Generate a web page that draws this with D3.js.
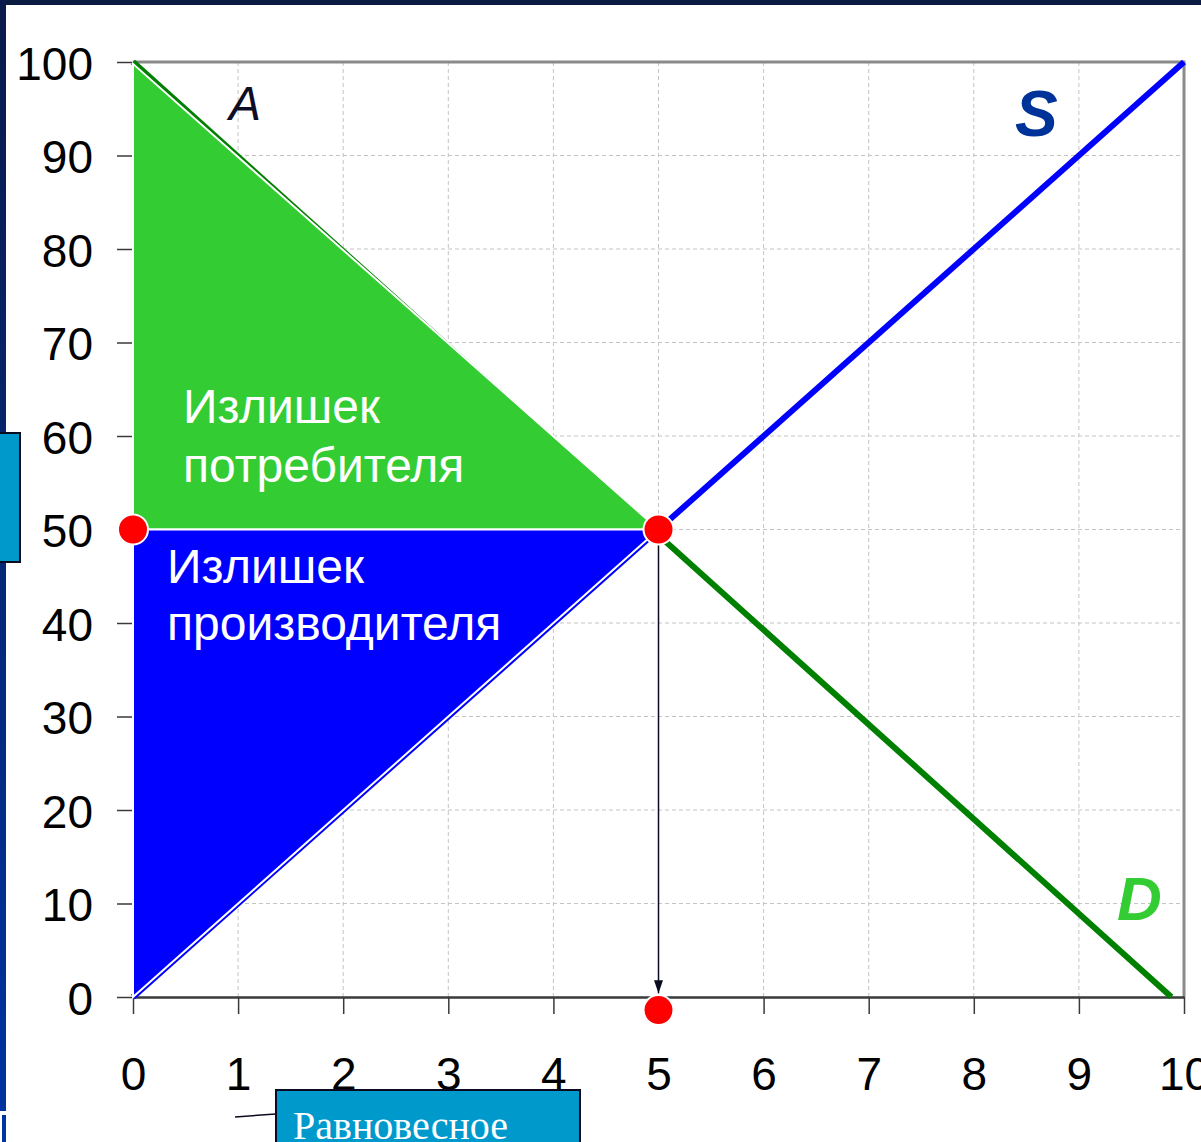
<!DOCTYPE html>
<html>
<head>
<meta charset="utf-8">
<script src="https://cdn.jsdelivr.net/npm/d3@7"></script>
<style>
  body { margin: 0; background: #fff; }
  svg { display: block; }
</style>
</head>
<body>
<div id="chart"></div>
<script>
//------------------------------DATA------------------------------//
const xTicks = [0, 1, 2, 3, 4, 5, 6, 7, 8, 9, 10];
const yTicks = [0, 10, 20, 30, 40, 50, 60, 70, 80, 90, 100];
const supply = [[0, 0], [10, 100]];
const demand = [[0, 100], [9.88, 0]];
const consumerSurplus = [[0, 99.8], [0, 50], [5, 50]];
const producerSurplus = [[0, 0], [0, 50], [5, 50]];
const equilibrium = [[0, 50], [5, 50], [5, -1.4]];
const dropLine = [[5, 50], [5, 0.4]];
const consumerLabel = ["Излишек", "потребителя"];
const producerLabel = ["Излишек", "производителя"];

//------------------------------SVG-------------------------------//
const W = 1201, H = 1142;
const svg = d3.select("#chart").append("svg")
  .attr("width", W)
  .attr("height", H)
  .style("font-family", "'Liberation Sans', Arial, sans-serif");

const defs = svg.append("defs");
const grad = defs.append("linearGradient")
  .attr("id", "edge")
  .attr("x1", 0).attr("y1", 0).attr("x2", 0).attr("y2", 1);
grad.append("stop").attr("offset", "0%").attr("stop-color", "#0a1a4a");
grad.append("stop").attr("offset", "100%").attr("stop-color", "#0033a0");

defs.append("marker")
  .attr("id", "arrow")
  .attr("viewBox", "0 0 10 10")
  .attr("refX", 10).attr("refY", 5)
  .attr("markerWidth", 13).attr("markerHeight", 9)
  .attr("markerUnits", "userSpaceOnUse")
  .attr("preserveAspectRatio", "none")
  .attr("orient", "auto")
  .append("path")
  .attr("d", "M0,0 L10,5 L0,10 Z")
  .attr("fill", "#0a0a20");

svg.append("rect").attr("width", W).attr("height", H).attr("fill", "#fff");

// slide edges
svg.append("rect").attr("x", 0).attr("y", 0).attr("width", W).attr("height", 5).attr("fill", "#0b1a40");
svg.append("rect").attr("x", 0).attr("y", 0).attr("width", 6).attr("height", 1111).attr("fill", "url(#edge)");
svg.append("rect").attr("x", 2).attr("y", 1115).attr("width", 4).attr("height", 30).attr("fill", "#0033a0");

//----------------------------SCALES------------------------------//
const x = d3.scaleLinear().domain([0, 10]).range([133, 1184]);
const y = d3.scaleLinear().domain([0, 100]).range([997, 62]);

//---------------------------GRIDLINES----------------------------//
const grid = svg.append("g").attr("class", "grid")
  .style("stroke", "#c4c4c4")
  .style("stroke-width", 1)
  .style("stroke-dasharray", "4,3");

grid.selectAll("line.vx")
  .data(xTicks.slice(1, -1))
  .enter().append("line")
  .attr("x1", d => x(d)).attr("x2", d => x(d))
  .attr("y1", y(100)).attr("y2", y(0));

grid.selectAll("line.hy")
  .data(yTicks.slice(1, -1))
  .enter().append("line")
  .attr("x1", x(0)).attr("x2", x(10))
  .attr("y1", d => y(d)).attr("y2", d => y(d));

// plot frame (top and right)
svg.append("path")
  .attr("d", "M" + x(0) + "," + y(100) + "H" + x(10) + "V" + y(0))
  .attr("fill", "none")
  .attr("stroke", "#8a8a8a")
  .attr("stroke-width", 3);

//-----------------------------AXES-------------------------------//
const yAxis = svg.append("g")
  .attr("transform", "translate(" + x(0) + ",0)")
  .call(d3.axisLeft(y).tickValues(yTicks).tickSize(16).tickSizeOuter(0).tickPadding(24));

const xAxis = svg.append("g")
  .attr("transform", "translate(0," + y(0) + ")")
  .call(d3.axisBottom(x).tickValues(xTicks).tickSize(17).tickSizeOuter(0).tickPadding(43));

[yAxis, xAxis].forEach(function (ax) {
  ax.select(".domain").attr("stroke", "#3a3a3a").attr("stroke-width", 2.5);
  ax.selectAll(".tick line").attr("stroke", "#3a3a3a").attr("stroke-width", 1.5);
  ax.selectAll(".tick text")
    .attr("fill", "#000")
    .style("font-family", "'Liberation Sans', Arial, sans-serif")
    .style("font-size", "46px");
});
yAxis.selectAll(".tick text").attr("dy", "0.38em");

//----------------------------LINES-------------------------------//
const line = d3.line().x(d => x(d[0])).y(d => y(d[1]));

svg.append("path")
  .attr("d", line(supply))
  .attr("fill", "none")
  .attr("stroke", "#0000ff")
  .attr("stroke-width", 6);

svg.append("path")
  .attr("d", line(demand))
  .attr("fill", "none")
  .attr("stroke", "#008000")
  .attr("stroke-width", 6);

//---------------------------SURPLUS------------------------------//
svg.append("path")
  .attr("d", line(consumerSurplus) + "Z")
  .attr("fill", "#33cc33")
  .attr("stroke", "#fff")
  .attr("stroke-width", 2);

svg.append("path")
  .attr("d", line(producerSurplus) + "Z")
  .attr("fill", "#0000ff")
  .attr("stroke", "#fff")
  .attr("stroke-width", 2);

svg.append("text")
  .attr("x", 183).attr("y", 423)
  .attr("fill", "#fff")
  .style("font-size", "48px")
  .selectAll("tspan")
  .data(consumerLabel)
  .enter().append("tspan")
  .attr("x", 183)
  .attr("dy", (d, i) => i ? 59 : 0)
  .text(d => d);

svg.append("text")
  .attr("x", 167).attr("y", 583)
  .attr("fill", "#fff")
  .style("font-size", "48px")
  .selectAll("tspan")
  .data(producerLabel)
  .enter().append("tspan")
  .attr("x", 167)
  .attr("dy", (d, i) => i ? 57 : 0)
  .text(d => d);

//-------------------------EQUILIBRIUM----------------------------//
svg.append("path")
  .attr("d", line(dropLine))
  .attr("fill", "none")
  .attr("stroke", "#0a0a20")
  .attr("stroke-width", 1.5)
  .attr("marker-end", "url(#arrow)");

svg.selectAll("circle.eq")
  .data(equilibrium)
  .enter().append("circle")
  .attr("cx", d => x(d[0]))
  .attr("cy", d => y(d[1]))
  .attr("r", 15)
  .attr("fill", "#ff0000")
  .attr("stroke", "#fff")
  .attr("stroke-width", 2);

//---------------------------LABELS-------------------------------//
svg.append("text")
  .attr("x", 229).attr("y", 120)
  .attr("fill", "#0d0d26")
  .style("font-size", "48px")
  .style("font-style", "italic")
  .text("A");

svg.append("text")
  .attr("x", 1015).attr("y", 136)
  .attr("fill", "#003399")
  .style("font-size", "64px")
  .style("font-weight", "bold")
  .style("font-style", "italic")
  .text("S");

svg.append("text")
  .attr("x", 1117).attr("y", 920)
  .attr("fill", "#33cc33")
  .style("font-size", "62px")
  .style("font-weight", "bold")
  .style("font-style", "italic")
  .text("D");

//--------------------------CALLOUTS------------------------------//
svg.append("rect")
  .attr("x", -2).attr("y", 433)
  .attr("width", 22).attr("height", 129)
  .attr("fill", "#0099cc")
  .attr("stroke", "#0a0a20")
  .attr("stroke-width", 2);

svg.append("line")
  .attr("x1", 235).attr("y1", 1117)
  .attr("x2", 290).attr("y2", 1113)
  .attr("stroke", "#0a0a20")
  .attr("stroke-width", 1.5);

svg.append("rect")
  .attr("x", 276).attr("y", 1090)
  .attr("width", 304).attr("height", 70)
  .attr("fill", "#0099cc")
  .attr("stroke", "#0a0a20")
  .attr("stroke-width", 2);

svg.append("text")
  .attr("x", 293).attr("y", 1139)
  .attr("fill", "#fff")
  .style("font-family", "'Liberation Serif', 'Times New Roman', serif")
  .style("font-size", "40px")
  .text("Равновесное");
</script>
</body>
</html>
